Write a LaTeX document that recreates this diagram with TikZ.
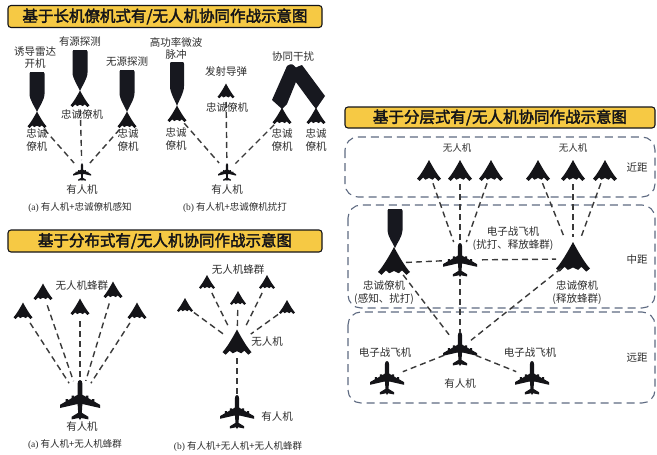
\documentclass[tikz,border=0pt]{standalone}
\usepackage{fontspec}
\setmainfont{Noto Sans CJK SC}
\newfontfamily\titlefont{Noto Sans CJK SC}[FakeBold=2.4]
\newfontfamily\latinserif{Liberation Serif}
\usetikzlibrary{calc}

\definecolor{ink}{HTML}{141418}
\definecolor{txt}{HTML}{2E2E2E}
\definecolor{titlebg}{HTML}{F6C944}
\definecolor{beamc}{HTML}{17181F}
\definecolor{dashc}{HTML}{3A3A3A}
\definecolor{framec}{HTML}{5F6B82}

\tikzset{
  titlebox/.style={draw=ink, line width=1.1pt, fill=titlebg, rounded corners=3pt,
    minimum height=22pt, inner sep=0pt, text=ink,
    font=\titlefont\fontsize{15.5}{16}\selectfont},
  lbl/.style={text=txt, font=\fontsize{10.5}{12.5}\selectfont, align=center, inner sep=0pt},
  smalllbl/.style={lbl, font=\fontsize{9.5}{11}\selectfont},
  captxt/.style={text=txt, font=\fontsize{9.5}{11}\selectfont, inner sep=0pt},
  link/.style={draw=dashc, line width=1.4pt, dash pattern=on 6pt off 4pt},
  layer/.style={draw=framec, line width=1.1pt, dash pattern=on 8pt off 5pt, rounded corners=13pt},
  % flying-wing drone, nose up, origin near its centre
  uav/.pic={
    \fill[ink] (0,-1) .. controls (0.4,-0.25) and (0.75,0.3) .. (1,0.56)
      -- (0.78,0.74) -- (0.5,0.46) -- (0.3,0.64) -- (0,0.5) -- (-0.3,0.64)
      -- (-0.5,0.46) -- (-0.78,0.74) -- (-1,0.56)
      .. controls (-0.75,0.3) and (-0.4,-0.25) .. cycle;
    \coordinate (-c) at (0,0);
  },
  % four-engine aircraft seen from above, nose up
  jet/.pic={
    \fill[ink] (0,-1) .. controls (0.09,-0.99) and (0.12,-0.92) .. (0.12,-0.8)
      -- (0.12,-0.26) -- (1,0.24) -- (1,0.4) -- (0.12,0.2)
      -- (0.09,0.64) -- (0.42,0.84) -- (0.42,0.97) -- (0.06,0.9) -- (0,1)
      -- (-0.06,0.9) -- (-0.42,0.97) -- (-0.42,0.84) -- (-0.09,0.64)
      -- (-0.12,0.2) -- (-1,0.4) -- (-1,0.24) -- (-0.12,-0.26)
      -- (-0.12,-0.8) .. controls (-0.12,-0.92) and (-0.09,-0.99) .. cycle;
    \fill[ink] (0.29,-0.22) rectangle (0.42,0.04) (0.59,-0.05) rectangle (0.72,0.2)
      (-0.29,-0.22) rectangle (-0.42,0.04) (-0.59,-0.05) rectangle (-0.72,0.2);
    \coordinate (-c) at (0,0);
  },
  % sensor / jamming beam: point at the origin, unit half width, unit length
  beam/.pic={
    \fill[beamc] (0,0) .. controls (0.2,-0.1) and (1,-0.3) .. (1,-0.45)
      -- (1,-0.96) .. controls (1,-1) .. (0.9,-1) -- (-0.9,-1)
      .. controls (-1,-1) .. (-1,-0.96) -- (-1,-0.45)
      .. controls (-1,-0.3) and (-0.2,-0.1) .. cycle;
  }
}

\begin{document}
\begin{tikzpicture}[x=1pt,y=-1pt]
\useasboundingbox[fill=white] (0,0) rectangle (657,455);

%% ---------- leader / loyal wingman ----------
\node[titlebox, minimum width=314pt] (t1) at (165,16.5) {基于长机僚机式有/无人机协同作战示意图};

% (a) sensing
\pic[xscale=7.5,yscale=40] at (37,112) {beam};
\pic[xscale=7.5,yscale=41] at (80,91) {beam};
\pic[xscale=7.5,yscale=42] at (127,112) {beam};
\pic[scale=9.5] (a1) at (37,121) {uav};
\pic[scale=9.5] (a2) at (80,100) {uav};
\pic[scale=9.5] (a3) at (127,121) {uav};
\pic[scale=9] (ja) at (82,172) {jet};
\node[lbl] (la1t) at (35,57.5) {诱导雷达\\开机};
\node[lbl] (la2t) at (80,42) {有源探测};
\node[lbl] (la3t) at (127,62) {无源探测};
\node[lbl] (la1) at (37,140) {忠诚\\僚机};
\node[lbl] (la2) at (82,115) {忠诚僚机};
\node[lbl] (la3) at (128,140) {忠诚\\僚机};
\node[lbl] (lja) at (82,190) {有人机};
\node[captxt] (ca) at (80,208) {{\latinserif (a)} 有人机+忠诚僚机感知};
\draw[link, shorten <=11pt, shorten >=12pt] (a1-c) -- (ja-c);
\draw[link, shorten <=10pt, shorten >=12pt] (a2-c) -- (ja-c);
\draw[link, shorten <=11pt, shorten >=12pt] (a3-c) -- (ja-c);

% (b) strike / jamming
\pic[xscale=7,yscale=44] at (177,106) {beam};
\fill[beamc] (316,109) -- (312,104) -- (290,74) .. controls (294,68) .. (302,65) -- (325,96) -- cycle;
\fill[beamc] (282,109) -- (272,100) -- (287,66) .. controls (292,63) .. (300,72) -- (287,104) -- cycle;
\pic[scale=9.5] (b1) at (177,115) {uav};
\pic[scale=8.5] (b2) at (226,92) {uav};
\pic[scale=9.5] (b3) at (282,117) {uav};
\pic[scale=9.5] (b4) at (316,117) {uav};
\pic[scale=9] (jb) at (227,172) {jet};
\node[lbl] (lb1t) at (176,48.5) {高功率微波\\脉冲};
\node[lbl] (lb2t) at (226,72) {发射导弹};
\node[lbl] (lb3t) at (293,57) {协同干扰};
\node[lbl] (lb1) at (176,139) {忠诚\\僚机};
\node[lbl] (lb2) at (227,108) {忠诚僚机};
\node[lbl] (lb3) at (282,140) {忠诚\\僚机};
\node[lbl] (lb4) at (316,140) {忠诚\\僚机};
\node[lbl] (ljb) at (227,190) {有人机};
\node[captxt] (cb) at (235,208) {{\latinserif (b)} 有人机+忠诚僚机扰打};
\draw[link, shorten <=11pt, shorten >=12pt] (b1-c) -- (jb-c);
\draw[link, shorten <=10pt, shorten >=12pt] (b2-c) -- (jb-c);
\draw[link, shorten <=11pt, shorten >=12pt] (b3-c) -- (jb-c);

%% ---------- distributed ----------
\node[titlebox, minimum width=314pt] (t2) at (165,241) {基于分布式有/无人机协同作战示意图};

% (a) manned + swarm
\pic[scale=9.5] (d1) at (23,312) {uav};
\pic[scale=9.5] (d2) at (43,293) {uav};
\pic[scale=9.5] (d3) at (80,308) {uav};
\pic[scale=9.5] (d4) at (113,291) {uav};
\pic[scale=9.5] (d5) at (137,312) {uav};
\pic[scale=20] (jc) at (80,400) {jet};
\node[lbl] (ld) at (82,286) {无人机蜂群};
\node[lbl] (ljc) at (82,427) {有人机};
\node[captxt] (cc) at (75,445) {{\latinserif (a)} 有人机+无人机蜂群};
\foreach \d in {d1,d2,d3,d4,d5}
  \draw[link, shorten <=13pt, shorten >=20pt] (\d-c) -- (jc-c);

% (b) manned + drone + swarm
\pic[scale=8] (e1) at (207,283) {uav};
\pic[scale=8] (e2) at (267,283) {uav};
\pic[scale=8] (e3) at (185,306) {uav};
\pic[scale=8] (e4) at (238,299) {uav};
\pic[scale=8] (e5) at (287,308) {uav};
\pic[scale=14.5] (ec) at (237,344) {uav};
\pic[scale=17] (jd) at (237,412) {jet};
\node[lbl] (le) at (238,270) {无人机蜂群};
\node[lbl] (lec) at (267,342) {无人机};
\node[lbl] (ljd) at (277,417) {有人机};
\node[captxt] (cd) at (238,447) {{\latinserif (b)} 有人机+无人机+无人机蜂群};
\foreach \e in {e1,e2,e3,e4,e5}
  \draw[link, shorten <=11pt, shorten >=17pt] (\e-c) -- (ec-c);
\draw[link, shorten <=14pt, shorten >=17pt] (ec-c) -- (jd-c);

%% ---------- layered ----------
\node[titlebox, minimum width=310pt, minimum height=21pt] (t3) at (500,117.5) {基于分层式有/无人机协同作战示意图};
\draw[layer] (345,137) rectangle (655,197);
\draw[layer] (348,205) rectangle (655,308);
\draw[layer] (348,312) rectangle (655,403);
\node[lbl] (near) at (637,167) {近距};
\node[lbl] (mid) at (637,260) {中距};
\node[lbl] (far) at (637,358) {远距};

% close range drones
\pic[scale=12] (u1) at (429,172) {uav};
\pic[scale=12] (u2) at (460,172) {uav};
\pic[scale=12] (u3) at (491,172) {uav};
\pic[scale=12] (u4) at (538,172) {uav};
\pic[scale=12] (u5) at (573,172) {uav};
\pic[scale=12] (u6) at (605,172) {uav};
\node[smalllbl] (lu1) at (457,148) {无人机};
\node[smalllbl] (lu2) at (573,148) {无人机};

% middle range
\pic[xscale=7.5,yscale=39] at (395,248) {beam};
\pic[scale=16] (m1) at (394,263) {uav};
\pic[scale=17] (mj) at (460,260) {jet};
\pic[scale=17] (m2) at (573,259) {uav};
\node[lbl] (lmj) at (513,238.5) {电子战飞机\\(扰打、释放蜂群)};
\node[lbl] (lm1) at (384,292.5) {忠诚僚机\\(感知、扰打)};
\node[lbl] (lm2) at (577,292.5) {忠诚僚机\\(释放蜂群)};

% long range
\pic[scale=17] (bj) at (460,349) {jet};
\pic[scale=17] (lj) at (387,378) {jet};
\pic[scale=17] (rj) at (532,378) {jet};
\node[lbl] (lbj) at (460,384) {有人机};
\node[lbl] (llj) at (385,353) {电子战飞机};
\node[lbl] (lrj) at (530,353) {电子战飞机};

\foreach \u in {u1,u2,u3}
  \draw[link, shorten <=12pt, shorten >=19pt] (\u-c) -- (mj-c);
\foreach \u in {u4,u5,u6}
  \draw[link, shorten <=12pt, shorten >=22pt] (\u-c) -- (m2-c);
\draw[link, shorten <=12pt, shorten >=16pt] (m1-c) -- (mj-c);
\draw[link, shorten <=22pt, shorten >=17pt] (mj-c) -- (m2-c);
\draw[link, shorten <=19pt, shorten >=17pt] (mj-c) -- (bj-c);
\draw[link, shorten <=15pt, shorten >=18pt] (m1-c) -- (bj-c);
\draw[link, shorten <=15pt, shorten >=14pt] (m2-c) -- (bj-c);
\draw[link, shorten <=17pt, shorten >=17pt] (bj-c) -- (lj-c);
\draw[link, shorten <=17pt, shorten >=17pt] (bj-c) -- (rj-c);
\end{tikzpicture}
\end{document}
